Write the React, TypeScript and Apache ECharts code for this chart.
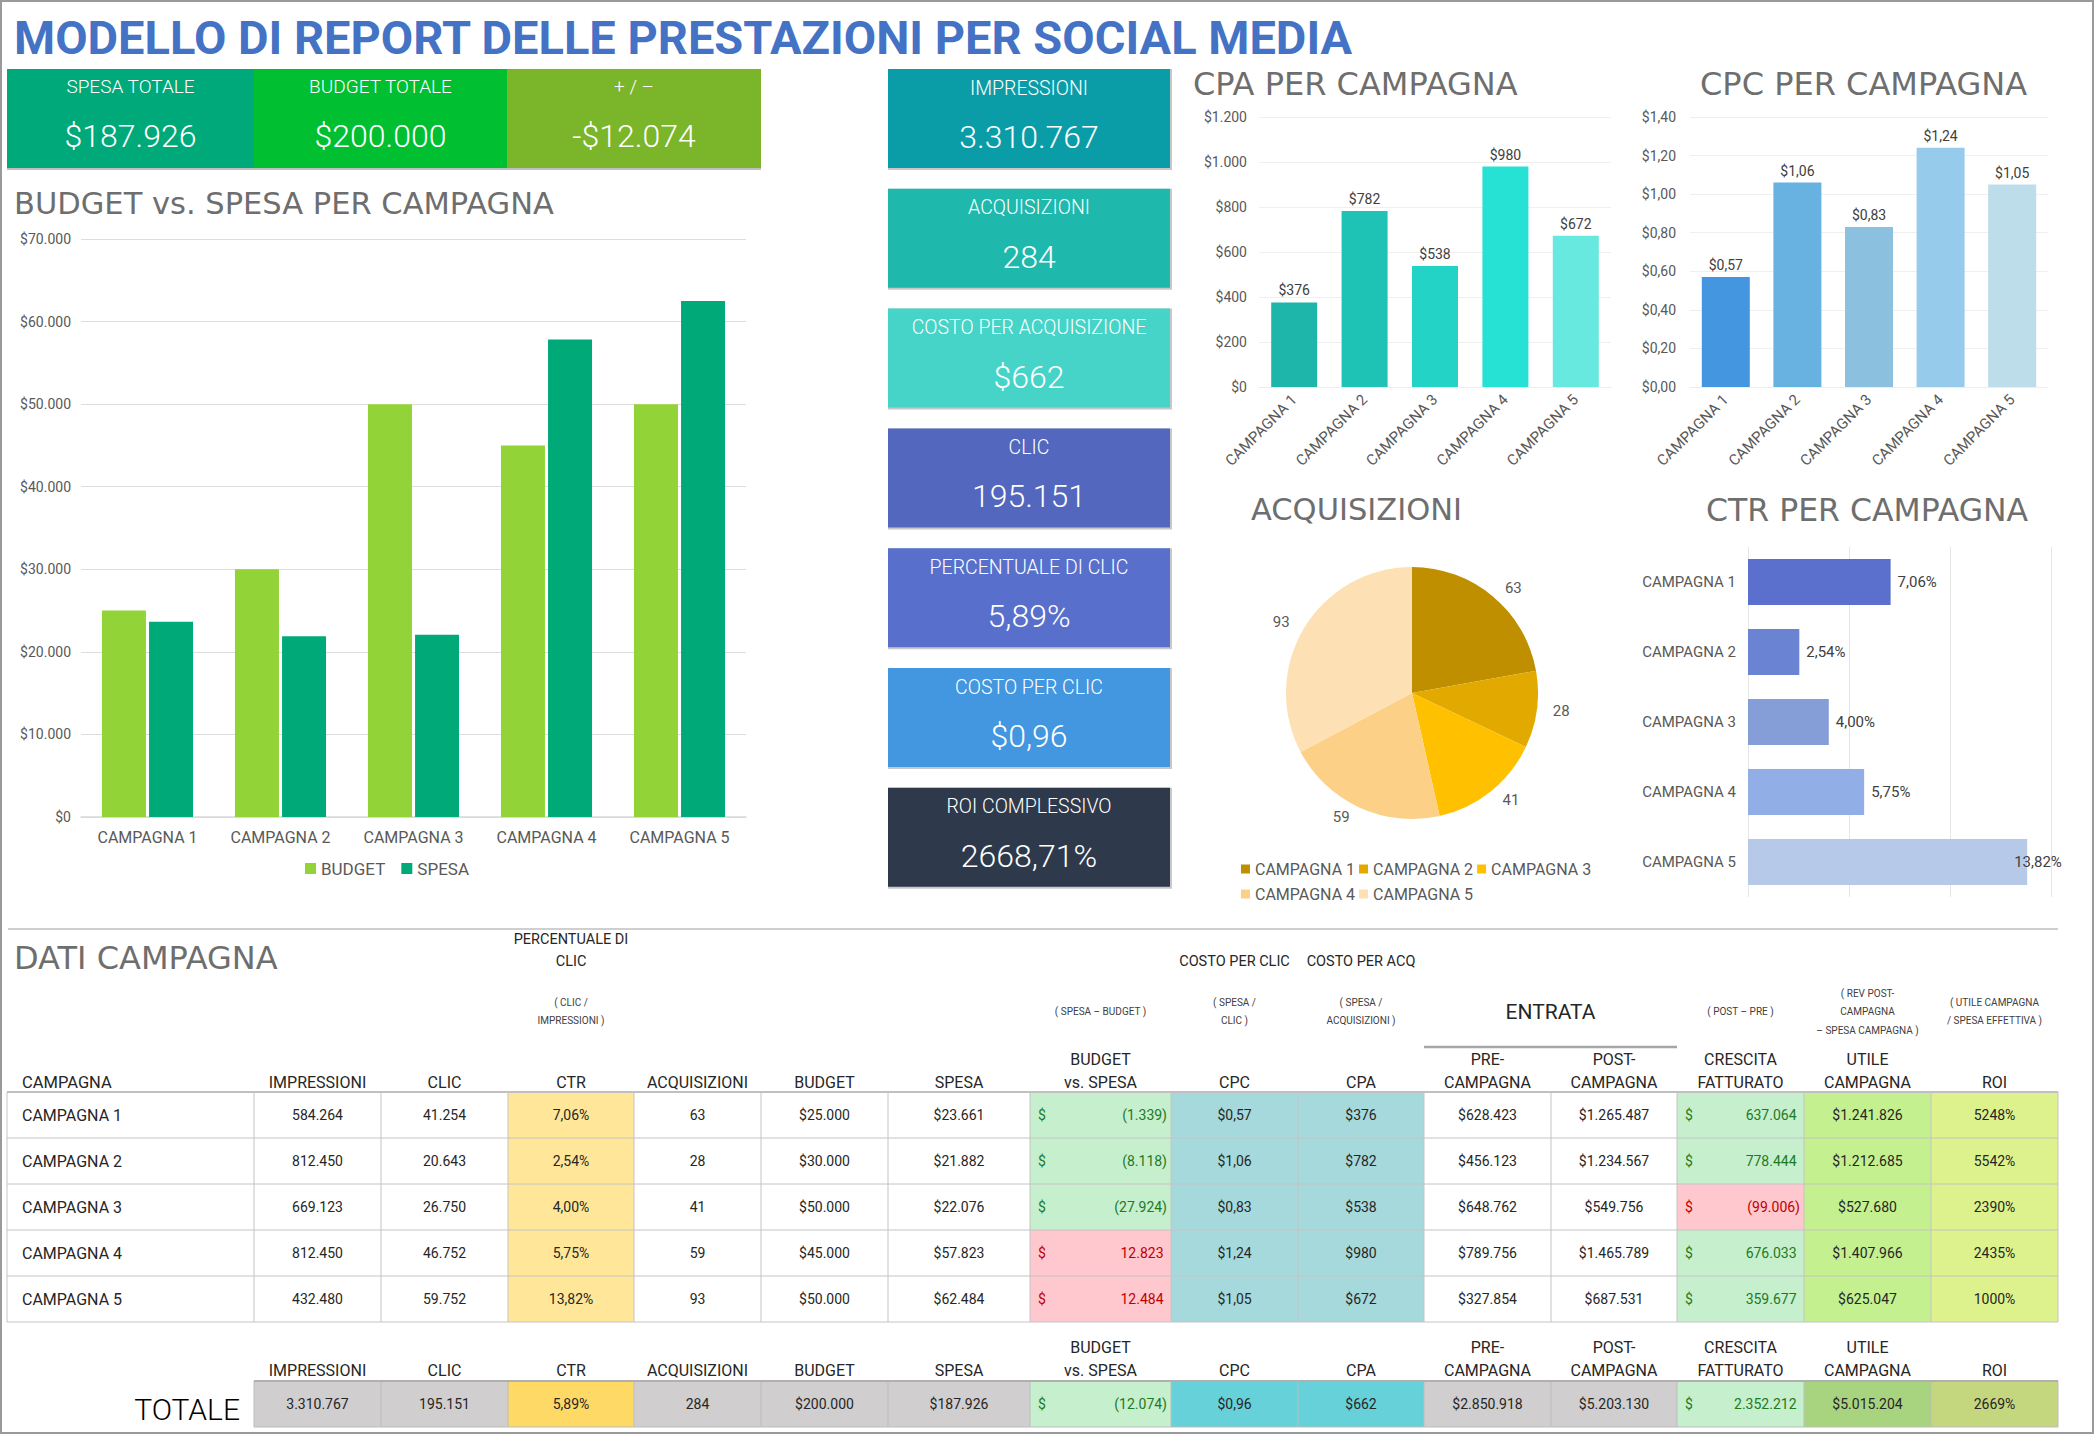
import React, { useEffect, useRef } from "react";
import * as echarts from "echarts";

const W = 2094;
const H = 1434;
const FONT = "Roboto, 'Noto Sans', sans-serif";
const TITLE_FONT = "'DejaVu Sans', Roboto, sans-serif";

// ---------- DATA ----------
const campaigns = ["CAMPAGNA 1", "CAMPAGNA 2", "CAMPAGNA 3", "CAMPAGNA 4", "CAMPAGNA 5"];
const budget = [25000, 30000, 50000, 45000, 50000];
const spesa = [23661, 21882, 22076, 57823, 62484];
const impressions = [584264, 812450, 669123, 812450, 432480];
const clicks = [41254, 20643, 26750, 46752, 59752];
const ctr = [7.06, 2.54, 4.0, 5.75, 13.82];
const acquisitions = [63, 28, 41, 59, 93];
const budgetVsSpesa = [-1339, -8118, -27924, 12823, 12484];
const cpc = [0.57, 1.06, 0.83, 1.24, 1.05];
const cpa = [376, 782, 538, 980, 672];
const preRevenue = [628423, 456123, 648762, 789756, 327854];
const postRevenue = [1265487, 1234567, 549756, 1465789, 687531];
const revenueGrowth = [637064, 778444, -99006, 676033, 359677];
const campaignProfit = [1241826, 1212685, 527680, 1407966, 625047];
const roi = [5248, 5542, 2390, 2435, 1000];

const totalImpressions = 3310767;
const totalClicks = 195151;
const totalCtr = 5.89;
const totalAcquisitions = 284;
const totalBudget = 200000;
const totalSpesa = 187926;
const totalBudgetVsSpesa = -12074;
const totalCpc = 0.96;
const totalCpa = 662;
const totalPre = 2850918;
const totalPost = 5203130;
const totalGrowth = 2352212;
const totalProfit = 5015204;
const totalRoi = 2669;
const overallRoi = 2668.71;

const yTicksBudget = { min: 0, max: 70000, interval: 10000 };
const yTicksCpa = { min: 0, max: 1200, interval: 200 };
const yTicksCpc = { min: 0, max: 1.4, interval: 0.2 };
const xTicksCtr = { min: 0, max: 15, interval: 5 };

// ---------- FORMAT ----------
function fmtInt(n: number) {
  const s = Math.round(Math.abs(n)).toString();
  return (n < 0 ? "-" : "") + s.replace(/\B(?=(\d{3})+(?!\d))/g, ".");
}
function fmtDec(n: number, d: number, group = true) {
  const s = Math.abs(n).toFixed(d);
  const [a, b] = s.split(".");
  const ia = group ? a.replace(/\B(?=(\d{3})+(?!\d))/g, ".") : a;
  return (n < 0 ? "-" : "") + ia + "," + b;
}
function fmtAcc(n: number) {
  return n < 0 ? "(" + fmtInt(-n) + ")" : fmtInt(n) + " ";
}

// ---------- COLORS ----------
const colBudget = "#92D437";
const colSpesa = "#00AA78";
const cpaColors = ["#1EB6AA", "#1FC3B5", "#23D4C6", "#26E2D5", "#68E9DF"];
const cpcColors = ["#4496E0", "#67B2E0", "#8BC0DE", "#96CBEB", "#BCDDE9"];
const ctrColors = ["#5A70CC", "#6A83D3", "#869ED8", "#92AEE6", "#B6C9E8"];
const pieColors = ["#BF8F00", "#E2AA00", "#FFC000", "#FDD088", "#FDE1B4"];

// ---------- GRAPHIC HELPERS ----------
function txt(x: number, y: number, text: string, size: number, fill: string, align = "center", weight: any = 400) {
  return {
    type: "text",
    x,
    y,
    silent: true,
    style: {
      text,
      fontSize: size,
      fontFamily: FONT,
      fontWeight: weight,
      fill,
      align,
      verticalAlign: "middle",
      textAlign: align,
      textVerticalAlign: "middle",
    },
  };
}
function rect(x: number, y: number, w: number, h: number, fill: string) {
  return { type: "rect", silent: true, shape: { x, y, width: w, height: h }, style: { fill } };
}
function line(x1: number, y1: number, x2: number, y2: number, stroke: string, lw = 1) {
  return { type: "line", silent: true, shape: { x1, y1, x2, y2 }, style: { stroke, lineWidth: lw } };
}

function buildGraphics() {
  const g: any[] = [];
  // frame
  g.push({ type: "rect", silent: true, shape: { x: 1, y: 1, width: W - 2, height: H - 2 }, style: { fill: "none", stroke: "#9A9A9A", lineWidth: 2 } });

  // top KPI tiles
  const topLabels = ["SPESA TOTALE", "BUDGET TOTALE", "+ / –"];
  const topValues = ["$" + fmtInt(totalSpesa), "$" + fmtInt(totalBudget), "-$" + fmtInt(-totalBudgetVsSpesa)];
  const topColors = ["#00A97A", "#00BF30", "#7AB52A"];
  const topX = [7, 254, 507, 761];
  g.push(rect(7, 69, 754, 101, "#BFBFBF"));
  topLabels.forEach((l, i) => {
    g.push(rect(topX[i], 69, topX[i + 1] - topX[i], 99, topColors[i]));
    g.push(txt((topX[i] + topX[i + 1]) / 2, 86, l, 19, "#FFFFFF", "center", 300));
    g.push(txt((topX[i] + topX[i + 1]) / 2, 136, topValues[i], 32, "#FFFFFF", "center", 300));
  });

  // side KPI tiles
  const sideLabels = ["IMPRESSIONI", "ACQUISIZIONI", "COSTO PER ACQUISIZIONE", "CLIC", "PERCENTUALE DI CLIC", "COSTO PER CLIC", "ROI COMPLESSIVO"];
  const sideValues = [
    fmtInt(totalImpressions),
    String(totalAcquisitions),
    "$" + fmtInt(totalCpa),
    fmtInt(totalClicks),
    fmtDec(totalCtr, 2) + "%",
    "$" + fmtDec(totalCpc, 2),
    fmtDec(overallRoi, 2, false) + "%",
  ];
  const sideColors = ["#0A9DA8", "#1EB8AC", "#45D4C7", "#5267BD", "#5870CB", "#4397E0", "#2E3A4B"];
  sideLabels.forEach((l, i) => {
    const y = 69 + i * 119.8;
    g.push(rect(888, y, 284, 101, "#C8C8C8"));
    g.push(rect(888, y, 282, 99, sideColors[i]));
    g.push(txt(1029, y + 19, l, 19.5, "#FFFFFF", "center", 300));
    g.push(txt(1029, y + 68, sideValues[i], 32, "#FFFFFF", "center", 300));
  });

  // separator line
  g.push(line(8, 929, 2058, 929, "#BFBFBF", 1.5));

  // ---------- TABLE ----------
  const colX = [7, 254, 381, 508, 634, 761, 888, 1030, 1171, 1298, 1424, 1551, 1677, 1804, 1931, 2058];
  const cx = (i: number) => (colX[i] + colX[i + 1]) / 2;
  const dark = "#262626";
  const sub = "#404040";

  // upper headers
  g.push(txt(cx(3), 939, "PERCENTUALE DI", 14.5, dark));
  g.push(txt(cx(3), 961, "CLIC", 14.5, dark));
  g.push(txt(cx(3), 1002, "( CLIC /", 10, sub));
  g.push(txt(cx(3), 1020, "IMPRESSIONI )", 10, sub));
  g.push(txt(cx(8), 961, "COSTO PER CLIC", 14.5, dark));
  g.push(txt(cx(9), 961, "COSTO PER ACQ", 14.5, dark));
  g.push(txt(cx(7), 1011, "( SPESA – BUDGET )", 10, sub));
  g.push(txt(cx(8), 1002, "( SPESA /", 10, sub));
  g.push(txt(cx(8), 1020, "CLIC )", 10, sub));
  g.push(txt(cx(9), 1002, "( SPESA /", 10, sub));
  g.push(txt(cx(9), 1020, "ACQUISIZIONI )", 10, sub));
  g.push(txt((colX[10] + colX[12]) / 2, 1012, "ENTRATA", 21, dark));
  g.push(line(colX[10], 1047, colX[12], 1047, "#A6A6A6", 2.5));
  g.push(txt(cx(12), 1011, "( POST – PRE )", 10, sub));
  g.push(txt(cx(13), 993, "( REV POST-", 10, sub));
  g.push(txt(cx(13), 1011, "CAMPAGNA", 10, sub));
  g.push(txt(cx(13), 1030, "– SPESA CAMPAGNA )", 10, sub));
  g.push(txt(cx(14), 1002, "( UTILE CAMPAGNA", 10, sub));
  g.push(txt(cx(14), 1020, "/ SPESA EFFETTIVA )", 10, sub));

  const head1 = ["", "", "", "", "", "", "", "BUDGET", "", "", "PRE-", "POST-", "CRESCITA", "UTILE", ""];
  const head2 = ["CAMPAGNA", "IMPRESSIONI", "CLIC", "CTR", "ACQUISIZIONI", "BUDGET", "SPESA", "vs. SPESA", "CPC", "CPA", "CAMPAGNA", "CAMPAGNA", "FATTURATO", "CAMPAGNA", "ROI"];
  head2.forEach((h, i) => {
    if (i === 0) g.push(txt(22, 1082, h, 16.5, dark, "left"));
    else {
      g.push(txt(cx(i), 1082, h, 16, dark));
      if (head1[i]) g.push(txt(cx(i), 1059, head1[i], 16, dark));
    }
  });

  const good = "#C6EFCE";
  const bad = "#FFC7CE";
  const goodTxt = "#1E7A1E";
  const badTxt = "#C00000";
  const fixedBg: Record<number, string> = { 3: "#FFE699", 8: "#A6D9DB", 9: "#A6D9DB", 13: "#C4F08F", 14: "#DDF28D" };

  const rowTop = [1092, 1138, 1184, 1230, 1276];
  const rowH = 46;
  campaigns.forEach((c, r) => {
    const y = rowTop[r];
    const cells = [
      c,
      fmtInt(impressions[r]),
      fmtInt(clicks[r]),
      fmtDec(ctr[r], 2) + "%",
      String(acquisitions[r]),
      "$" + fmtInt(budget[r]),
      "$" + fmtInt(spesa[r]),
      fmtAcc(budgetVsSpesa[r]),
      "$" + fmtDec(cpc[r], 2),
      "$" + fmtInt(cpa[r]),
      "$" + fmtInt(preRevenue[r]),
      "$" + fmtInt(postRevenue[r]),
      fmtAcc(revenueGrowth[r]),
      "$" + fmtInt(campaignProfit[r]),
      roi[r] + "%",
    ];
    cells.forEach((t, i) => {
      let bg = fixedBg[i];
      let fg = dark;
      if (i === 7) {
        const ok = budgetVsSpesa[r] < 0;
        bg = ok ? good : bad;
        fg = ok ? goodTxt : badTxt;
      }
      if (i === 12) {
        const ok = revenueGrowth[r] > 0;
        bg = ok ? good : bad;
        fg = ok ? goodTxt : badTxt;
      }
      if (bg) g.push(rect(colX[i], y, colX[i + 1] - colX[i], rowH, bg));
      const cy = y + rowH / 2;
      if (i === 0) g.push(txt(22, cy, t, 16, dark, "left"));
      else if (i === 7 || i === 12) {
        g.push(txt(colX[i] + 8, cy, "$", 14, fg, "left"));
        g.push(txt(colX[i + 1] - 4, cy, t, 14, fg, "right"));
      } else g.push(txt(cx(i), cy, t, 14, dark));
    });
  });
  // grid lines of table
  [1138, 1184, 1230, 1276, 1322].forEach((y) => g.push(line(7, y, 2058, y, "#C4C4C4", 1)));
  g.push(line(7, 1092, 2058, 1092, "#C0C0C0", 2));
  colX.forEach((x) => g.push(line(x, 1092, x, 1322, "#C4C4C4", 1)));

  // totals header
  head2.forEach((h, i) => {
    if (i === 0) return;
    g.push(txt(cx(i), 1370, h, 16, dark));
    if (head1[i]) g.push(txt(cx(i), 1347, head1[i], 16, dark));
  });
  g.push(txt(240, 1409, "TOTALE", 30, "#000000", "right", 300));
  const totBg = ["", "#D0CECE", "#D0CECE", "#FFD966", "#D0CECE", "#D0CECE", "#D0CECE", good, "#66D1D9", "#66D1D9", "#D0CECE", "#D0CECE", good, "#A9D47F", "#C4D67E"];
  const totCells = [
    "",
    fmtInt(totalImpressions),
    fmtInt(totalClicks),
    fmtDec(totalCtr, 2) + "%",
    String(totalAcquisitions),
    "$" + fmtInt(totalBudget),
    "$" + fmtInt(totalSpesa),
    fmtAcc(totalBudgetVsSpesa),
    "$" + fmtDec(totalCpc, 2),
    "$" + fmtInt(totalCpa),
    "$" + fmtInt(totalPre),
    "$" + fmtInt(totalPost),
    fmtAcc(totalGrowth),
    "$" + fmtInt(totalProfit),
    totalRoi + "%",
  ];
  const ty = 1381;
  const th = 46;
  totCells.forEach((t, i) => {
    if (i === 0) return;
    g.push(rect(colX[i], ty, colX[i + 1] - colX[i], th, totBg[i]));
    const cy = ty + th / 2;
    if (i === 7 || i === 12) {
      g.push(txt(colX[i] + 8, cy, "$", 14, goodTxt, "left"));
      g.push(txt(colX[i + 1] - 4, cy, t, 14, goodTxt, "right"));
    } else g.push(txt(cx(i), cy, t, 14, dark));
  });
  colX.slice(1).forEach((x) => g.push(line(x, ty, x, ty + th, "#BDBDBD", 1)));
  g.push(line(254, ty, 2058, ty, "#B0B0B0", 2));
  g.push(line(254, ty + th, 2058, ty + th, "#BDBDBD", 1));

  return g;
}

function buildOption(): any {
  const axisGray = "#595959";
  const titleStyle = (size: number) => ({ fontSize: size, fontWeight: "normal", color: "#6E6E6E", fontFamily: TITLE_FONT, lineHeight: size });
  const catAxisRot = (gi: number) => ({
    gridIndex: gi,
    type: "category",
    data: campaigns,
    axisLine: { lineStyle: { color: "#EDEDED" } },
    axisTick: { show: false },
    axisLabel: { rotate: 45, fontSize: 15, color: axisGray, margin: 10, fontFamily: FONT },
  });
  const chartTitle = (text: string, left: number, centerY: number, size: number) => ({
    text,
    left,
    top: centerY - size / 2,
    padding: 0,
    textStyle: titleStyle(size),
  });
  return {
    animation: false,
    backgroundColor: "#FFFFFF",
    textStyle: { fontFamily: FONT },
    title: [
      { text: "MODELLO DI REPORT DELLE PRESTAZIONI PER SOCIAL MEDIA", left: 14, top: 13, padding: 0, textStyle: { fontSize: 47, fontWeight: "bold", color: "#4472C4", fontFamily: FONT, lineHeight: 48 } },
      chartTitle("BUDGET vs. SPESA PER CAMPAGNA", 14, 203.5, 30.5),
      chartTitle("CPA PER CAMPAGNA", 1193, 83.5, 32),
      chartTitle("CPC PER CAMPAGNA", 1700, 83.5, 32),
      chartTitle("ACQUISIZIONI", 1251, 509.5, 30.5),
      chartTitle("CTR PER CAMPAGNA", 1706, 509.5, 31.5),
      chartTitle("DATI CAMPAGNA", 14, 957.5, 32),
    ],
    legend: [
      { left: 300, top: 855, icon: "rect", itemWidth: 11, itemHeight: 11, itemGap: 16, data: ["BUDGET", "SPESA"], textStyle: { fontSize: 17, color: axisGray, fontFamily: FONT } },
      { left: 1236, top: 856, icon: "rect", itemWidth: 9, itemHeight: 9, itemGap: 4, itemTextGap: 4, data: campaigns.slice(0, 3), textStyle: { fontSize: 16, color: axisGray, fontFamily: FONT } },
      { left: 1236, top: 881, icon: "rect", itemWidth: 9, itemHeight: 9, itemGap: 4, itemTextGap: 4, data: campaigns.slice(3), textStyle: { fontSize: 16, color: axisGray, fontFamily: FONT } },
    ],
    grid: [
      { left: 81, top: 239, width: 665, height: 578 },
      { left: 1259, top: 117, width: 352, height: 270 },
      { left: 1690, top: 117, width: 358, height: 270 },
      { left: 1748, top: 547, width: 303, height: 350 },
    ],
    xAxis: [
      {
        gridIndex: 0,
        type: "category",
        data: campaigns,
        axisLine: { lineStyle: { color: "#D9D9D9", width: 1.5 } },
        axisTick: { show: false },
        axisLabel: { color: axisGray, fontSize: 16, margin: 12, fontFamily: FONT },
      },
      catAxisRot(1),
      catAxisRot(2),
      {
        gridIndex: 3,
        type: "value",
        ...xTicksCtr,
        axisLabel: { show: false },
        axisLine: { show: false },
        axisTick: { show: false },
        splitLine: { lineStyle: { color: "#E6E6E6" } },
      },
    ],
    yAxis: [
      {
        gridIndex: 0,
        type: "value",
        ...yTicksBudget,
        axisLabel: { color: axisGray, fontSize: 14, margin: 10, fontFamily: FONT, formatter: (v: number) => "$" + fmtInt(v) },
        splitLine: { lineStyle: { color: "#DDDDDD" } },
      },
      {
        gridIndex: 1,
        type: "value",
        ...yTicksCpa,
        axisLabel: { color: axisGray, fontSize: 14, margin: 12, fontFamily: FONT, formatter: (v: number) => "$" + fmtInt(v) },
        splitLine: { lineStyle: { color: "#EFEFEF" } },
      },
      {
        gridIndex: 2,
        type: "value",
        ...yTicksCpc,
        axisLabel: { color: axisGray, fontSize: 14, margin: 14, fontFamily: FONT, formatter: (v: number) => "$" + fmtDec(v, 2) },
        splitLine: { lineStyle: { color: "#EFEFEF" } },
      },
      {
        gridIndex: 3,
        type: "category",
        data: campaigns,
        inverse: true,
        axisLine: { show: false },
        axisTick: { show: false },
        axisLabel: { color: axisGray, fontSize: 15, margin: 12, fontFamily: FONT },
      },
    ],
    series: [
      { type: "bar", name: "BUDGET", xAxisIndex: 0, yAxisIndex: 0, data: budget, barWidth: 44, barGap: "7%", itemStyle: { color: colBudget } },
      { type: "bar", name: "SPESA", xAxisIndex: 0, yAxisIndex: 0, data: spesa, barWidth: 44, barGap: "7%", itemStyle: { color: colSpesa } },
      {
        type: "bar",
        name: "CPA",
        xAxisIndex: 1,
        yAxisIndex: 1,
        barWidth: 46,
        data: cpa.map((v, i) => ({ value: v, itemStyle: { color: cpaColors[i] } })),
        label: { show: true, position: "top", distance: 5, fontSize: 14, color: "#404040", fontFamily: FONT, formatter: (p: any) => "$" + fmtInt(p.value) },
      },
      {
        type: "bar",
        name: "CPC",
        xAxisIndex: 2,
        yAxisIndex: 2,
        barWidth: 48,
        data: cpc.map((v, i) => ({ value: v, itemStyle: { color: cpcColors[i] } })),
        label: { show: true, position: "top", distance: 5, fontSize: 14, color: "#404040", fontFamily: FONT, formatter: (p: any) => "$" + fmtDec(p.value, 2) },
      },
      {
        type: "bar",
        name: "CTR",
        xAxisIndex: 3,
        yAxisIndex: 3,
        barWidth: 46,
        data: ctr.map((v, i) => ({
          value: v,
          itemStyle: { color: ctrColors[i] },
          ...(i === ctr.length - 1 ? { label: { offset: [-20, 0] } } : {}),
        })),
        label: { show: true, position: "right", distance: 7, fontSize: 15, color: "#404040", fontFamily: FONT, formatter: (p: any) => fmtDec(p.value, 2) + "%" },
      },
      {
        type: "pie",
        name: "ACQUISIZIONI",
        center: [1412, 693],
        radius: 126,
        data: campaigns.map((c, i) => ({ name: c, value: acquisitions[i], itemStyle: { color: pieColors[i] } })),
        label: { show: true, position: "outside", formatter: "{c}", fontSize: 15, color: axisGray, fontFamily: FONT },
        labelLine: { show: false, length: 11, length2: 0 },
        itemStyle: { borderWidth: 0 },
      },
    ],
    graphic: { elements: buildGraphics() },
  };
}

export default function App() {
  const ref = useRef<HTMLDivElement>(null);
  useEffect(() => {
    if (!ref.current) return;
    const chart = echarts.init(ref.current, undefined, { renderer: "svg", width: W, height: H });
    chart.setOption(buildOption());
    return () => chart.dispose();
  }, []);
  return <div ref={ref} style={{ position: "absolute", left: 0, top: 0, width: W, height: H, background: "#fff" }} />;
}
